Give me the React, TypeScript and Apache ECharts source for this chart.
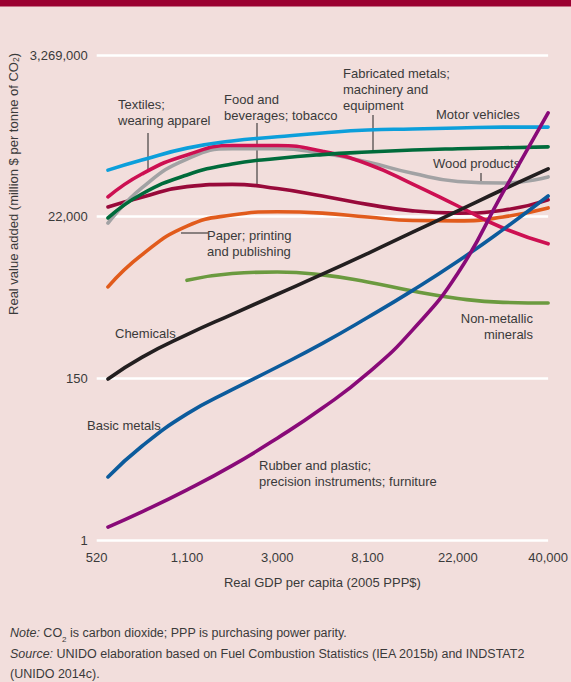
import React, { useEffect, useRef } from "react";
import * as echarts from "echarts";

// X positions along the GDP axis (in tick-index units, 0 = "520", 5 = "40,000")
const xTickLabels = ["520", "1,100", "3,000", "8,100", "22,000", "40,000"];
// Y axis is natural-log of real value added; ticks at ln = 0, 5, 10, 15
const yTickLabels: Record<number, string> = { 0: "1", 5: "150", 10: "22,000", 15: "3,269,000" };

const xPos = [0.125, 0.5, 1, 1.5, 2, 2.5, 3, 3.5, 4, 4.5, 5];

// ln(real value added per tonne CO2)
const motorVehicles = [11.44, 11.75, 12.12, 12.34, 12.47, 12.59, 12.68, 12.71, 12.74, 12.77, 12.77];
const fabricatedMetals = [9.96, 10.7, 11.29, 11.63, 11.8, 11.92, 12.0, 12.06, 12.1, 12.13, 12.16];
const textiles = [10.61, 11.32, 11.91, 12.2, 12.2, 12.02, 11.63, 11.01, 10.33, 9.65, 9.16];
const foodBeverages = [10.3, 10.6, 10.93, 11.0, 10.87, 10.64, 10.38, 10.18, 10.11, 10.2, 10.52];
const woodProducts = [9.8, 10.89, 11.78, 12.1, 12.1, 11.96, 11.69, 11.34, 11.09, 11.04, 11.23];
const paperPrinting = [7.83, 8.82, 9.71, 10.05, 10.15, 10.11, 9.99, 9.88, 9.87, 9.99, 10.27];
const nonMetallic = [null, null, 8.03, 8.24, 8.29, 8.2, 7.98, 7.7, 7.47, 7.35, 7.33];
const chemicals = [4.98, 5.65, 6.35, 6.98, 7.6, 8.22, 8.86, 9.52, 10.18, 10.84, 11.48];
const basicMetals = [1.95, 2.9, 3.9, 4.65, 5.35, 6.08, 6.88, 7.72, 8.62, 9.6, 10.64];
const rubberPlastic = [0.4, 0.87, 1.55, 2.3, 3.15, 4.08, 5.15, 6.5, 8.25, 10.75, 13.21];

const seriesDefs = [
  { name: "Non-metallic minerals", data: nonMetallic, color: "#6b9a3f" },
  { name: "Paper; printing and publishing", data: paperPrinting, color: "#e15b1c" },
  { name: "Food and beverages; tobacco", data: foodBeverages, color: "#98093a" },
  { name: "Wood products", data: woodProducts, color: "#a2a2a4" },
  { name: "Textiles; wearing apparel", data: textiles, color: "#cd1052" },
  { name: "Fabricated metals; machinery and equipment", data: fabricatedMetals, color: "#006b3b" },
  { name: "Motor vehicles", data: motorVehicles, color: "#0c9fdb" },
  { name: "Chemicals", data: chemicals, color: "#231f20" },
  { name: "Basic metals", data: basicMetals, color: "#0c5b9c" },
  { name: "Rubber and plastic; precision instruments; furniture", data: rubberPlastic, color: "#890a78" },
];

const FONT = "'Liberation Sans', Arial, sans-serif";
const TXT = "#3a3a3a";
const FS = 13;

export default function App() {
  const ref = useRef<HTMLDivElement>(null);
  useEffect(() => {
    if (!ref.current) return;
    const chart = echarts.init(ref.current, undefined, { renderer: "svg" });

    const label = (x: number, y: number, text: string, align = "left") => ({
      type: "text",
      x,
      y,
      silent: true,
      style: {
        text,
        fill: TXT,
        fontFamily: FONT,
        fontSize: FS,
        lineHeight: 16,
        align,
        verticalAlign: "top",
      },
    });
    const leader = (x1: number, y1: number, x2: number, y2: number) => ({
      type: "line",
      silent: true,
      shape: { x1, y1, x2, y2 },
      style: { stroke: "#222", lineWidth: 1 },
    });

    chart.setOption({
      animation: false,
      backgroundColor: "#f2dedc",
      grid: { left: 96.7, right: 22.8, top: 55, bottom: 142 },
      xAxis: {
        type: "value",
        min: 0,
        max: 5,
        interval: 1,
        axisLine: { show: false },
        axisTick: { show: false },
        splitLine: { show: false },
        axisLabel: {
          formatter: (v: number) => xTickLabels[Math.round(v)] ?? "",
          color: TXT,
          fontFamily: FONT,
          fontSize: FS,
          margin: 11,
        },
        name: "Real GDP per capita (2005 PPP$)",
        nameLocation: "middle",
        nameGap: 36,
        nameTextStyle: { color: TXT, fontFamily: FONT, fontSize: FS },
      },
      yAxis: {
        type: "value",
        min: 0,
        max: 15,
        interval: 5,
        axisLine: { show: false },
        axisTick: { show: false },
        splitLine: { show: true, lineStyle: { color: "#ffffff", width: 2.5 } },
        axisLabel: {
          formatter: (v: number) => yTickLabels[Math.round(v)] ?? "",
          color: TXT,
          fontFamily: FONT,
          fontSize: FS,
          margin: 9,
        },
      },
      series: seriesDefs.map((s) => ({
        name: s.name,
        type: "line",
        smooth: 0.5,
        showSymbol: false,
        connectNulls: false,
        lineStyle: { color: s.color, width: 3.6, cap: "round" },
        itemStyle: { color: s.color },
        data: xPos.map((x, i) => (s.data[i] == null ? [x, null] : [x, s.data[i]])),
      })),
      graphic: [
        { type: "rect", shape: { x: 0, y: 0, width: 571, height: 6.5 }, style: { fill: "#9b0031" } },
        {
          type: "text",
          x: 13,
          y: 184,
          rotation: Math.PI / 2,
          silent: true,
          style: {
            text: "Real value added (million $ per tonne of CO{s|2})",
            fill: TXT,
            fontFamily: FONT,
            fontSize: FS,
            align: "center",
            verticalAlign: "middle",
            rich: { s: { fontSize: 8.5, fill: TXT, fontFamily: FONT, verticalAlign: "bottom", padding: [6, 0, 0, 0] } },
          },
        },
        label(118, 96, "Textiles;\nwearing apparel"),
        leader(148, 133, 148, 169),
        label(224, 91, "Food and\nbeverages; tobacco"),
        leader(257, 123, 257, 185),
        label(343, 65, "Fabricated metals;\nmachinery and\nequipment"),
        leader(373, 115, 373, 150),
        label(436, 106, "Motor vehicles"),
        label(433, 155, "Wood products"),
        leader(481, 173, 481, 183),
        label(207, 227, "Paper; printing\nand publishing"),
        leader(181, 233, 208, 233),
        label(115, 325, "Chemicals"),
        label(87, 417, "Basic metals"),
        label(259, 457, "Rubber and plastic;\nprecision instruments; furniture"),
        label(533, 310, "Non-metallic\nminerals", "right"),
        {
          type: "text",
          x: 10,
          y: 623,
          silent: true,
          style: {
            text:
              "{i|Note:} CO{s|2} is carbon dioxide; PPP is purchasing power parity.\n{i|Source:} UNIDO elaboration based on Fuel Combustion Statistics (IEA 2015b) and INDSTAT2\n(UNIDO 2014c).",
            fill: TXT,
            fontFamily: FONT,
            fontSize: 12.5,
            lineHeight: 20.5,
            align: "left",
            verticalAlign: "top",
            rich: {
              i: { fontStyle: "italic", fontSize: 12.5, fill: TXT, fontFamily: FONT, lineHeight: 20.5 },
              s: { fontSize: 8, fill: TXT, fontFamily: FONT, verticalAlign: "bottom", padding: [6, 0, 0, 0], lineHeight: 20.5 },
            },
          },
        },
      ],
    });
    return () => chart.dispose();
  }, []);
  return (
    <div
      ref={ref}
      style={{ position: "fixed", left: 0, top: 0, width: 571, height: 682 }}
    />
  );
}
